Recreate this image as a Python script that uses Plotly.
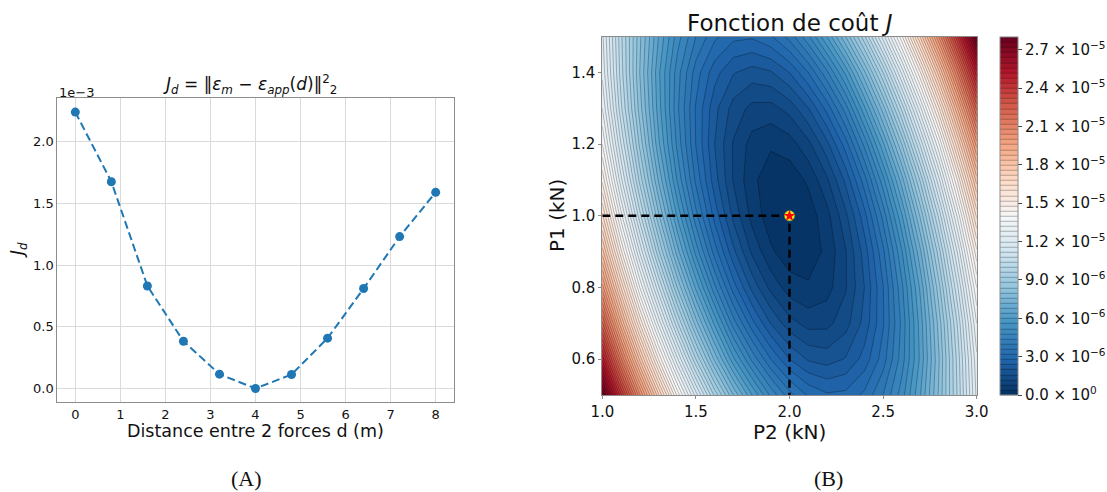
import plotly.graph_objects as go

W, H = 1107, 492

# ---------------- Left panel data ----------------
distance_d = [0.0, 0.8, 1.6, 2.4, 3.2, 4.0, 4.8, 5.6, 6.4, 7.2, 8.0]
J_d_e3 = [2.240, 1.676, 0.831, 0.383, 0.116, 0.0, 0.113, 0.408, 0.810, 1.231, 1.590]
left_xticks = [0, 1, 2, 3, 4, 5, 6, 7, 8]
left_yticks = [0.0, 0.5, 1.0, 1.5, 2.0]
left_yticklabels = ["0.0", "0.5", "1.0", "1.5", "2.0"]

# ---------------- Right panel data ----------------
P2_kN = [1.0, 1.1, 1.2, 1.3, 1.4, 1.5, 1.6, 1.7, 1.8, 1.9, 2.0,
         2.1, 2.2, 2.3, 2.4, 2.5, 2.6, 2.7, 2.8, 2.9, 3.0]
P1_kN = [0.5, 0.6, 0.7, 0.8, 0.9, 1.0, 1.1, 1.2, 1.3, 1.4, 1.5]
# cost J in units of 1e-6, rows = P1 (0.5 -> 1.5), columns = P2 (1.0 -> 3.0)
J_e6 = [
    [28.0, 24.1, 20.5, 17.3, 14.3, 11.8, 9.5, 7.6, 6.0, 4.7, 3.75, 3.14, 2.86, 2.91, 3.29, 4.0, 5.0, 6.4, 8.1, 10.1, 12.5],
    [25.1, 21.3, 17.9, 14.8, 12.1, 9.6, 7.5, 5.7, 4.3, 3.2, 2.4, 1.95, 1.82, 2.03, 2.56, 3.4, 4.6, 6.1, 8.0, 10.2, 12.7],
    [22.5, 18.9, 15.6, 12.7, 10.1, 7.8, 5.9, 4.2, 2.94, 1.98, 1.35, 1.05, 1.08, 1.44, 2.13, 3.15, 4.5, 6.2, 8.2, 10.5, 13.2],
    [20.2, 16.8, 13.6, 10.9, 8.4, 6.3, 4.5, 3.0, 1.88, 1.08, 0.6, 0.46, 0.64, 1.16, 2.0, 3.18, 4.7, 6.5, 8.7, 11.2, 14.0],
    [18.2, 14.9, 11.95, 9.3, 7.0, 5.05, 3.41, 2.1, 1.12, 0.47, 0.15, 0.16, 0.5, 1.17, 2.17, 3.5, 5.16, 7.15, 9.47, 12.12, 15.1],
    [16.5, 13.37, 10.56, 8.09, 5.94, 4.13, 2.64, 1.49, 0.66, 0.17, 0.0, 0.17, 0.66, 1.49, 2.64, 4.13, 5.94, 8.09, 10.56, 13.37, 16.5],
    [15.1, 12.12, 9.47, 7.15, 5.16, 3.5, 2.17, 1.17, 0.5, 0.16, 0.15, 0.47, 1.12, 2.1, 3.41, 5.05, 7.0, 9.3, 11.95, 14.9, 18.2],
    [14.0, 11.2, 8.7, 6.5, 4.7, 3.18, 2.0, 1.16, 0.64, 0.46, 0.6, 1.08, 1.88, 3.0, 4.5, 6.3, 8.4, 10.9, 13.6, 16.8, 20.2],
    [13.2, 10.5, 8.2, 6.2, 4.5, 3.15, 2.13, 1.44, 1.08, 1.05, 1.35, 1.98, 2.94, 4.2, 5.9, 7.8, 10.1, 12.7, 15.6, 18.9, 22.5],
    [12.7, 10.2, 8.0, 6.1, 4.6, 3.4, 2.56, 2.03, 1.82, 1.95, 2.4, 3.2, 4.3, 5.7, 7.5, 9.6, 12.1, 14.8, 17.9, 21.3, 25.1],
    [12.5, 10.1, 8.1, 6.4, 5.0, 4.0, 3.29, 2.91, 2.86, 3.14, 3.75, 4.7, 6.0, 7.6, 9.5, 11.8, 14.3, 17.3, 20.5, 24.1, 28.0],
]
P2_opt = 2.0
P1_opt = 1.0
right_xticks = [1.0, 1.5, 2.0, 2.5, 3.0]
right_xticklabels = ["1.0", "1.5", "2.0", "2.5", "3.0"]
right_yticks = [0.6, 0.8, 1.0, 1.2, 1.4]
right_yticklabels = ["0.6", "0.8", "1.0", "1.2", "1.4"]
cbar_ticks = [0, 3, 6, 9, 12, 15, 18, 21, 24, 27]
cbar_labels = ["0.0 × 10<sup>0</sup>", "3.0 × 10<sup>−6</sup>", "6.0 × 10<sup>−6</sup>",
               "9.0 × 10<sup>−6</sup>", "1.2 × 10<sup>−5</sup>", "1.5 × 10<sup>−5</sup>",
               "1.8 × 10<sup>−5</sup>", "2.1 × 10<sup>−5</sup>", "2.4 × 10<sup>−5</sup>",
               "2.7 × 10<sup>−5</sup>"]

RdBu_r = [
    [0.0, "#053061"], [0.1, "#2166ac"], [0.2, "#4393c3"], [0.3, "#92c5de"],
    [0.4, "#d1e5f0"], [0.5, "#f7f7f7"], [0.6, "#fddbc7"], [0.7, "#f4a582"],
    [0.8, "#d6604d"], [0.9, "#b2182b"], [1.0, "#67001f"],
]

FONT = "DejaVu Sans"
SPINE = "#8c8c8c"


def px(x):
    return x / W


def py(y):
    return 1 - y / H


fig = go.Figure()

fig.add_trace(go.Scatter(
    x=distance_d, y=J_d_e3, mode="lines+markers",
    line=dict(color="#1f77b4", width=2, dash="8px,4px"),
    marker=dict(color="#1f77b4", size=9),
    xaxis="x", yaxis="y", showlegend=False,
))

fig.add_trace(go.Contour(
    x=P2_kN, y=P1_kN, z=J_e6,
    xaxis="x2", yaxis="y2",
    colorscale=RdBu_r, zmin=0, zmax=28.0,
    contours=dict(start=0, end=28.0, size=0.4, coloring="fill", showlines=True),
    line=dict(color="rgba(0,0,0,0.55)", width=0.5, smoothing=0),
    colorbar=dict(
        x=px(999.5), xanchor="left", y=py(395), yanchor="bottom",
        len=(395 - 36.7) / H, lenmode="fraction",
        thickness=18, thicknessmode="pixels",
        outlinecolor=SPINE, outlinewidth=1,
        tickvals=cbar_ticks, ticktext=cbar_labels,
        ticks="outside", ticklen=4, tickcolor="#444",
        tickfont=dict(family=FONT, size=15, color="#111"),
        xpad=0, ypad=0,
    ),
    showscale=True,
))

# dashed guide lines to optimum
fig.add_trace(go.Scatter(
    x=[P2_kN[0], P2_opt, P2_opt], y=[P1_opt, P1_opt, P1_kN[0]],
    mode="lines", line=dict(color="black", width=2.5, dash="8px,5px"),
    xaxis="x2", yaxis="y2", showlegend=False, cliponaxis=False,
))
fig.add_trace(go.Scatter(
    x=[P2_opt], y=[P1_opt], mode="markers",
    marker=dict(color="#f5e31a", size=10, line=dict(color="#9acd32", width=0.5)),
    xaxis="x2", yaxis="y2", showlegend=False,
))
fig.add_trace(go.Scatter(
    x=[P2_opt], y=[P1_opt], mode="markers",
    marker=dict(color="red", size=9, symbol="star"),
    xaxis="x2", yaxis="y2", showlegend=False,
))

left_common = dict(showline=True, mirror=True, linecolor=SPINE, linewidth=1,
                   ticks="", zeroline=False, automargin=False,
                   showgrid=True, gridcolor="#dadada", gridwidth=1,
                   tickfont=dict(size=13))
right_common = dict(showline=True, mirror=True, linecolor=SPINE, linewidth=1,
                    ticks="outside", ticklen=3, tickcolor=SPINE, zeroline=False,
                    automargin=False, showgrid=False, tickfont=dict(size=15))

fig.update_layout(
    width=W, height=H,
    margin=dict(l=0, r=0, t=0, b=0, pad=0, autoexpand=False),
    paper_bgcolor="white", plot_bgcolor="white",
    font=dict(family=FONT, color="#111"),
    showlegend=False,
    xaxis=dict(domain=[px(57.3), px(453.7)], range=[-0.4, 8.4], anchor="y",
               tickvals=left_xticks, **left_common),
    yaxis=dict(domain=[py(402.3), py(98.3)], range=[-0.112, 2.352], anchor="x",
               tickvals=left_yticks, ticktext=left_yticklabels, **left_common),
    xaxis2=dict(domain=[px(602.3), px(976.7)], range=[1.0, 3.0], anchor="y2",
                tickvals=right_xticks, ticktext=right_xticklabels, **right_common),
    yaxis2=dict(domain=[py(395), py(36.7)], range=[0.5, 1.5], anchor="x2",
                tickvals=right_yticks, ticktext=right_yticklabels, **right_common),
)

ann = []


def text(x, y, s, size, family=FONT, angle=0, xanchor="center"):
    ann.append(dict(x=px(x), y=py(y), xref="paper", yref="paper", text=s,
                    showarrow=False, xanchor=xanchor, yanchor="middle",
                    textangle=angle, font=dict(family=family, size=size, color="#111")))


text(250, 84, "<i>J<sub>d</sub></i> = ‖<i>ε<sub>m</sub></i> − <i>ε<sub>app</sub></i>(<i>d</i>)‖<sup>2</sup><sub>2</sub>", 17)
text(57, 92, "1e−3", 13, xanchor="left")
text(255.5, 431, "Distance entre 2 forces d (m)", 17.5)
text(18, 250, "<i>J<sub>d</sub></i>", 17, angle=-90)
text(789.5, 23, "Fonction de coût <i>J</i>", 23)
text(789.5, 432, "P2 (kN)", 20)
text(557, 216, "P1 (kN)", 20, angle=-90)
text(246, 478, "(A)", 22, family="Liberation Serif")
text(828, 478, "(B)", 22, family="Liberation Serif")

fig.update_layout(annotations=ann)

fig.write_html(
    "out.html",
    config={"displayModeBar": False},
    post_script="document.body.style.margin='0';document.body.style.overflow='hidden';",
)
